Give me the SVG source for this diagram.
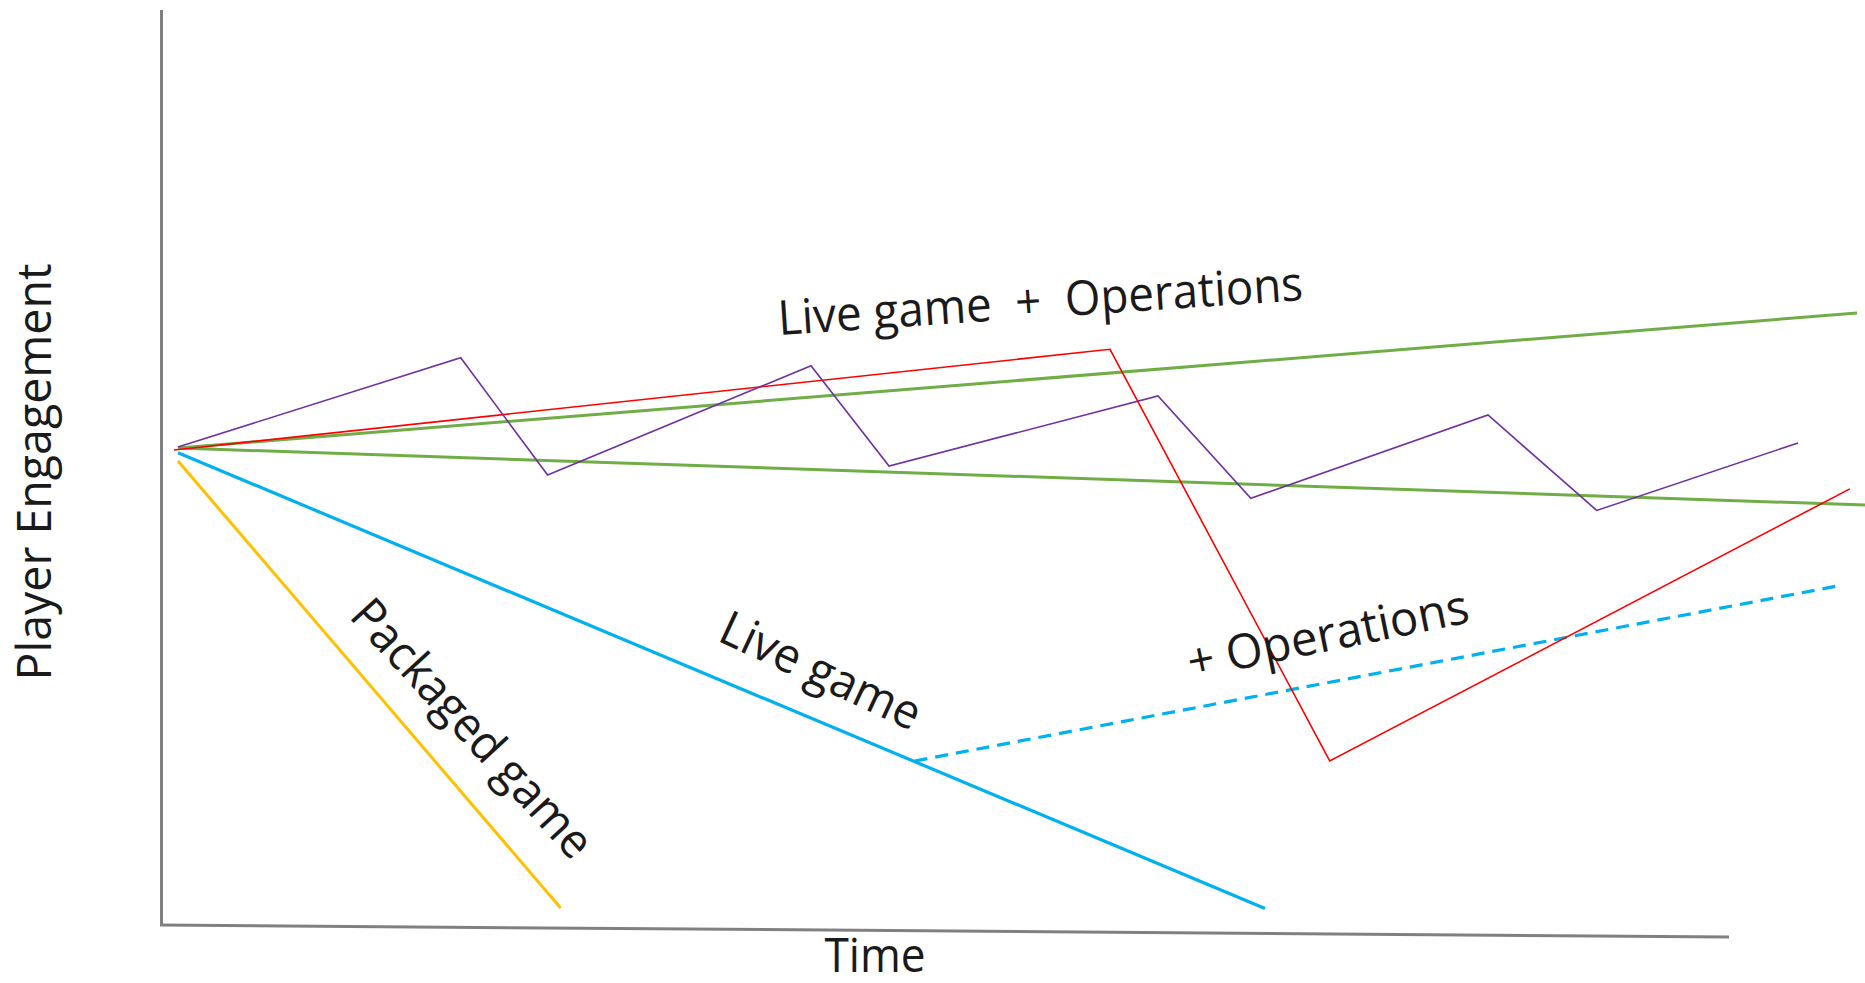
<svg xmlns="http://www.w3.org/2000/svg" width="1865" height="983" viewBox="0 0 1865 983">
  <style>
    .axis { stroke: #808080; stroke-width: 3; fill: none; }
    .series { fill: none; stroke-linejoin: miter; stroke-linecap: butt; }
    .label { font-family: "Segoe UI", "Open Sans", "Noto Sans", sans-serif; font-size: 48px; fill: #1a1a1a; }
  </style>
  <rect width="1865" height="983" fill="#ffffff"/>

  <!-- axes -->
  <g id="axes">
    <line class="axis" x1="161.5" y1="10" x2="161.5" y2="925"/>
    <line class="axis" x1="160" y1="925" x2="1729" y2="937"/>
  </g>

  <!-- engagement curves -->
  <g id="connectors">
    <path id="packaged" class="series" stroke="#FFC000" stroke-width="3" d="M178 461 L560.6 908"/>
    <path id="live" class="series" stroke="#00B0F0" stroke-width="3.2" d="M178 452.7 L1265 908.5"/>
    <path id="live-ops" class="series" stroke="#00B0F0" stroke-width="3.2" stroke-dasharray="13 8" d="M914.6 761 L1839 585.7"/>
    <path id="green-up" class="series" stroke="#70AD47" stroke-width="3" d="M178 448 L1857 313"/>
    <path id="green-down" class="series" stroke="#70AD47" stroke-width="3" d="M178 448 L1865 505"/>
    <path id="red" class="series" stroke="#FF0000" stroke-width="1.6" d="M174 450 L1110 349.3 L1329.7 761 L1849.8 488.9"/>
    <path id="purple" class="series" stroke="#7030A0" stroke-width="1.6" d="M178 447 L460.7 357.7 L547.6 475 L811 365.7 L889 466 L1158 396 L1250.8 498.3 L1488 415 L1596.7 510.4 L1798 443"/>
  </g>

  <!-- labels -->
  <g id="label-y">
    <text class="label" text-anchor="middle" textLength="417" lengthAdjust="spacingAndGlyphs" transform="translate(51 472) rotate(-90)">Player Engagement</text>
  </g>
  <g id="label-x">
    <text class="label" x="875" y="972" text-anchor="middle" textLength="101" lengthAdjust="spacingAndGlyphs">Time</text>
  </g>
  <g id="label-live-ops-top">
    <text class="label" xml:space="preserve" textLength="526" lengthAdjust="spacingAndGlyphs" transform="translate(779 335) rotate(-3.8)">Live game  +  Operations</text>
  </g>
  <g id="label-live">
    <text class="label" textLength="216" lengthAdjust="spacingAndGlyphs" transform="translate(716 640) rotate(25)">Live game</text>
  </g>
  <g id="label-ops">
    <text class="label" textLength="286" lengthAdjust="spacingAndGlyphs" transform="translate(1191 679) rotate(-11.5)">+ Operations</text>
  </g>
  <g id="label-packaged">
    <text class="label" textLength="332" lengthAdjust="spacingAndGlyphs" transform="translate(348 617) rotate(47.5)">Packaged game</text>
  </g>
</svg>
